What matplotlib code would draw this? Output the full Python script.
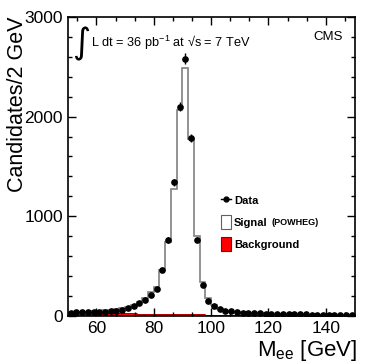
import numpy as np
import matplotlib
matplotlib.use("Agg")
import matplotlib.pyplot as plt
from matplotlib.lines import Line2D
from matplotlib.patches import Patch
from matplotlib.ticker import MultipleLocator

plt.rcParams['font.family'] = ['Liberation Sans', 'DejaVu Sans']
plt.rcParams['mathtext.fontset'] = 'custom'
plt.rcParams['mathtext.rm'] = 'Liberation Sans'
plt.rcParams['mathtext.it'] = 'Liberation Sans:italic'

# bins of 2 GeV from 50 to 150
edges = np.arange(50, 152, 2)
centers = edges[:-1] + 1

data = [35, 36, 38, 42, 43, 45, 45, 47, 53, 60, 77, 100, 127, 160, 211, 271,
        465, 762, 1340, 2097, 2582, 1788, 765, 315, 150, 103, 67, 50, 50, 37,
        34, 31, 31, 27,
        23, 22, 20, 19, 18, 17, 16, 15, 14, 13, 13, 12, 11, 11, 10, 10]
signal = [38, 40, 42, 45, 48, 52, 56, 62, 70, 80, 92, 110, 140, 180, 240, 295,
          462, 740, 1270, 2065, 2485, 1772, 802, 344, 178, 110, 72, 55, 45, 38,
          33, 30, 27, 25,
          22, 20, 19, 18, 17, 16, 15, 14, 13, 12, 12, 11, 10, 10, 9, 9]
background = [30, 30, 29, 29, 28, 28, 27, 27, 26, 26, 25, 25, 24, 24, 23, 23,
              22, 21, 20, 19, 18, 17, 16, 15, 14, 13, 12, 11, 10, 9, 8, 8, 7, 7,
              7, 6, 6, 6, 5, 5, 5, 5, 4, 4, 4, 4, 4, 3, 3, 3]

data = np.array(data)
fig = plt.figure(figsize=(3.74, 3.63), dpi=100)
ax = fig.add_axes([0.181, 0.1295, 0.767, 0.824])

ax.stairs(background, edges, fill=True, color='#ff0000')
ax.stairs(background, edges, color='#990000', lw=0.5)
ax.stairs(signal, edges, color='#808080', lw=1.2, baseline=None)
ax.errorbar(centers, data, yerr=np.sqrt(data), fmt='o', ms=3.8, color='black',
            elinewidth=1.0, capsize=0)

ax.set_xlim(50, 150)
ax.set_ylim(0, 3000)
ax.xaxis.set_major_locator(MultipleLocator(20))
ax.xaxis.set_minor_locator(MultipleLocator(20 / 3))
ax.yaxis.set_major_locator(MultipleLocator(1000))
ax.yaxis.set_minor_locator(MultipleLocator(200))
ax.tick_params(which='both', direction='in', top=True, right=True, labelsize=12.5)
ax.tick_params(which='major', length=6, width=1)
ax.tick_params(which='minor', length=3, width=1)
ax.tick_params(axis='y', pad=3.5)
ax.tick_params(axis='x', pad=3.5)
for s in ax.spines.values():
    s.set_linewidth(1.2)

ax.set_ylabel('Candidates/2 GeV', fontsize=15.5, loc='top')
ax.yaxis.set_label_coords(-0.138, 1.0)
ax.set_xlabel(r'M$_{\mathregular{ee}}$ [GeV]', fontsize=16, loc='right')
ax.xaxis.set_label_coords(1.01, -0.072)

ax.text(0.045, 0.908, '\u222b', transform=ax.transAxes, fontsize=25,
        va='center', ha='center', family=['DejaVu Sans'])
ax.text(0.08, 0.912, 'L dt = 36 pb$^{\\mathregular{-1}}$ at \u221as = 7 TeV',
        transform=ax.transAxes, fontsize=9.2, va='center', ha='left')
ax.text(0.96, 0.933, 'CMS', transform=ax.transAxes, fontsize=9.5,
        va='center', ha='right')

handles = [Line2D([], [], color='black', marker='o', ms=3.5, lw=1),
           Patch(facecolor='white', edgecolor='#606060', lw=0.8),
           Patch(facecolor='#ff0000', edgecolor='#8b0000', lw=0.8)]
leg = ax.legend(handles, ['Data', 'Signal', 'Background'], loc='upper left',
                bbox_to_anchor=(0.52, 0.425), frameon=False,
                prop={'size': 8, 'weight': 'bold'}, handlelength=0.85,
                handleheight=1.5, handletextpad=0.3, labelspacing=0.75,
                borderaxespad=0)
sig_text = leg.get_texts()[1]
ax.annotate('(POWHEG)', xy=(1, 0), xycoords=sig_text, xytext=(2.5, 0.3),
            textcoords='offset points', fontsize=6.5, fontweight='bold',
            va='bottom', ha='left', zorder=10)

fig.savefig('out.png', dpi=100)
